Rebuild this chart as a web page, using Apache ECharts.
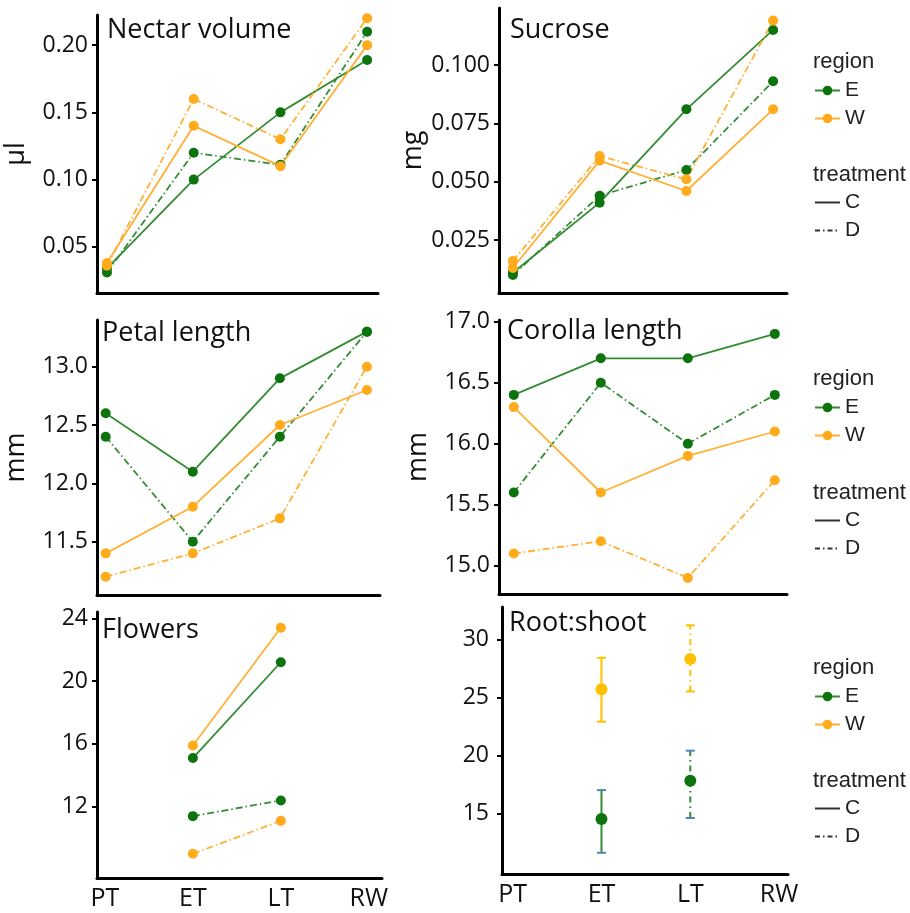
<!DOCTYPE html>
<html>
<head>
<meta charset="utf-8">
<script src="https://cdn.jsdelivr.net/npm/echarts@6/dist/echarts.min.js"></script>
<style>
  html, body { margin: 0; padding: 0; background: #fff; }
  #chart { width: 910px; height: 913px; }
</style>
</head>
<body>
<div id="chart"></div>
<script>
// x categories
var stages = ['PT', 'ET', 'LT', 'RW'];

// Nectar volume (µl)
var nectarEC = [0.034, 0.100, 0.150, 0.189];
var nectarED = [0.031, 0.120, 0.111, 0.210];
var nectarWC = [0.038, 0.140, 0.110, 0.200];
var nectarWD = [0.036, 0.160, 0.130, 0.220];
var nectarTicks = [0.05, 0.10, 0.15, 0.20];

// Sucrose (mg)
var sucroseEC = [0.011, 0.041, 0.081, 0.115];
var sucroseED = [0.010, 0.044, 0.055, 0.093];
var sucroseWC = [0.013, 0.059, 0.046, 0.081];
var sucroseWD = [0.016, 0.061, 0.051, 0.119];
var sucroseTicks = [0.025, 0.050, 0.075, 0.100];

// Petal length (mm)
var petalEC = [12.6, 12.1, 12.9, 13.3];
var petalED = [12.4, 11.5, 12.4, 13.3];
var petalWC = [11.4, 11.8, 12.5, 12.8];
var petalWD = [11.2, 11.4, 11.7, 13.0];
var petalTicks = [11.5, 12.0, 12.5, 13.0];

// Corolla length (mm)
var corollaEC = [16.4, 16.7, 16.7, 16.9];
var corollaED = [15.6, 16.5, 16.0, 16.4];
var corollaWC = [16.3, 15.6, 15.9, 16.1];
var corollaWD = [15.1, 15.2, 14.9, 15.7];
var corollaTicks = [15.0, 15.5, 16.0, 16.5, 17.0];

// Flowers (only ET / LT measured)
var flowersEC = [null, 15.1, 21.2, null];
var flowersED = [null, 11.4, 12.4, null];
var flowersWC = [null, 15.9, 23.4, null];
var flowersWD = [null, 9.0, 11.1, null];
var flowersTicks = [12, 16, 20, 24];

// Root:shoot, mean with error bars
var rootGroup = ['EC', 'WC', 'ED', 'WD'];
var rootStage = ['ET', 'ET', 'LT', 'LT'];
var rootMean = [14.5, 25.7, 17.8, 28.3];
var rootLow = [11.6, 22.9, 14.6, 25.5];
var rootHigh = [17.0, 28.4, 20.4, 31.2];
var rootTicks = [15, 20, 25, 30];

var green = '#0d730d', greenLine = '#338c33';
var orange = '#ffab1c', orangeLine = '#ffb035';
var gold = '#ffc000', capBlue = '#4f81bd';
var dashDot = [7, 3, 1.5, 3];
var font = 'Open Sans';

// panel layout: grid box, y range, x range
var panels = [
  { title: 'Nectar volume', name: 'µl', gap: 67, left: 97, top: 15, width: 281, height: 278, ymin: 0.0157, ymax: 0.2224, xmin: -0.115, xmax: 3.125, ticks: nectarTicks, dec: 2, labels: false, tx: 107, ty: 17 },
  { title: 'Sucrose', name: 'mg', gap: 72, left: 499, top: 8, width: 288, height: 285, ymin: 0.0023, ymax: 0.1244, xmin: -0.16, xmax: 3.16, ticks: sucroseTicks, dec: 3, labels: false, tx: 510, ty: 17 },
  { title: 'Petal length', name: 'mm', gap: 67, left: 97, top: 320, width: 283, height: 275, ymin: 11.043, ymax: 13.4, xmin: -0.1, xmax: 3.15, ticks: petalTicks, dec: 1, labels: false, tx: 102, ty: 320 },
  { title: 'Corolla length', name: 'mm', gap: 67, left: 499, top: 320, width: 288, height: 274, ymin: 14.768, ymax: 17.014, xmin: -0.17, xmax: 3.14, ticks: corollaTicks, dec: 1, labels: false, tx: 507, ty: 318 },
  { title: 'Flowers', name: '', gap: 60, left: 97, top: 612, width: 285, height: 266, ymin: 7.46, ymax: 24.4, xmin: -0.09, xmax: 3.15, ticks: flowersTicks, dec: 0, labels: true, tx: 102, ty: 617 },
  { title: 'Root:shoot', name: '', gap: 60, left: 502, top: 607, width: 286, height: 267, ymin: 9.77, ymax: 32.78, xmin: -0.12, xmax: 3.1, ticks: rootTicks, dec: 0, labels: true, tx: 509, ty: 610 }
];

var grids = [], xAxes = [], yAxes = [], titles = [];
panels.forEach(function (p, i) {
  grids.push({ left: p.left, top: p.top, width: p.width, height: p.height });
  titles.push({ text: p.title, left: p.tx, top: p.ty, padding: 0,
    textStyle: { fontSize: 27, fontWeight: 'normal', fontFamily: font, color: '#111' } });
  xAxes.push({
    type: 'value', gridIndex: i, min: p.xmin, max: p.xmax,
    axisLine: { show: true, onZero: false, lineStyle: { color: '#000', width: 3 } },
    axisTick: { show: false },
    splitLine: { show: false },
    axisLabel: {
      show: p.labels, customValues: [0, 1, 2, 3], margin: 8,
      fontSize: 25, fontFamily: font, color: '#111',
      formatter: function (v) { return stages[Math.round(v)]; }
    }
  });
  yAxes.push({
    type: 'value', gridIndex: i, min: p.ymin, max: p.ymax,
    name: p.name, nameLocation: 'middle', nameGap: p.gap,
    nameTextStyle: { fontSize: 27, fontFamily: font, color: '#111' },
    axisLine: { show: true, onZero: false, lineStyle: { color: '#000', width: 3 } },
    axisTick: { show: true, customValues: p.ticks, length: 5, lineStyle: { color: '#000', width: 2 } },
    splitLine: { show: false },
    axisLabel: {
      customValues: p.ticks, margin: i === 5 ? 13 : 9,
      fontSize: 23, fontFamily: font, color: '#111',
      formatter: (function (d) { return function (v) { return v.toFixed(d); }; })(p.dec)
    }
  });
});

function lineSeries(idx, label, vals, region, treat) {
  var pts = [];
  vals.forEach(function (v, i) { if (v != null) pts.push([i, v]); });
  var isE = region === 'E';
  return {
    name: label, type: 'line', xAxisIndex: idx, yAxisIndex: idx, data: pts,
    symbol: 'circle', symbolSize: 10, silent: true,
    itemStyle: { color: isE ? green : orange },
    lineStyle: { color: isE ? greenLine : orangeLine, width: 1.8, type: treat === 'D' ? dashDot : 'solid' }
  };
}

var series = [];
var sets = [
  [nectarEC, nectarED, nectarWC, nectarWD],
  [sucroseEC, sucroseED, sucroseWC, sucroseWD],
  [petalEC, petalED, petalWC, petalWD],
  [corollaEC, corollaED, corollaWC, corollaWD],
  [flowersEC, flowersED, flowersWC, flowersWD]
];
sets.forEach(function (s, i) {
  series.push(lineSeries(i, panels[i].title + ' E C', s[0], 'E', 'C'));
  series.push(lineSeries(i, panels[i].title + ' E D', s[1], 'E', 'D'));
  series.push(lineSeries(i, panels[i].title + ' W C', s[2], 'W', 'C'));
  series.push(lineSeries(i, panels[i].title + ' W D', s[3], 'W', 'D'));
});

// root:shoot error bars + means
rootGroup.forEach(function (g, k) {
  var isE = g.charAt(0) === 'E';
  var col = isE ? greenLine : gold;
  var x = stages.indexOf(rootStage[k]);
  series.push({
    name: 'Root:shoot ' + g + ' bar', type: 'custom', xAxisIndex: 5, yAxisIndex: 5, silent: true,
    data: [[x, rootLow[k], rootHigh[k]]],
    renderItem: function (params, api) {
      var lo = api.coord([api.value(0), api.value(1)]);
      var hi = api.coord([api.value(0), api.value(2)]);
      var capCol = isE ? capBlue : gold;
      var w = 4.5;
      return {
        type: 'group',
        children: [
          { type: 'line', shape: { x1: lo[0], y1: lo[1], x2: hi[0], y2: hi[1] },
            style: { stroke: col, lineWidth: 2, lineDash: g.charAt(1) === 'D' ? [6, 4, 1.5, 4] : null } },
          { type: 'line', shape: { x1: lo[0] - w, y1: lo[1], x2: lo[0] + w, y2: lo[1] },
            style: { stroke: capCol, lineWidth: 2 } },
          { type: 'line', shape: { x1: hi[0] - w, y1: hi[1], x2: hi[0] + w, y2: hi[1] },
            style: { stroke: capCol, lineWidth: 2 } }
        ]
      };
    }
  });
  series.push({
    name: 'Root:shoot ' + g, type: 'scatter', xAxisIndex: 5, yAxisIndex: 5, silent: true,
    data: [[x, rootMean[k]]], symbolSize: 12, z: 5,
    itemStyle: { color: isE ? green : gold, opacity: 1 }
  });
});

// dummy series feeding the legends
series.push({ name: 'E', type: 'line', data: [], symbol: 'circle', symbolSize: 9, itemStyle: { color: green }, lineStyle: { color: greenLine, width: 2 } });
series.push({ name: 'W', type: 'line', data: [], symbol: 'circle', symbolSize: 9, itemStyle: { color: orange }, lineStyle: { color: orangeLine, width: 2 } });
series.push({ name: 'C', type: 'line', data: [], symbol: 'none', itemStyle: { color: '#333' }, lineStyle: { color: '#333', width: 1.6 } });
series.push({ name: 'D', type: 'line', data: [], symbol: 'none', itemStyle: { color: '#333' }, lineStyle: { color: '#333', width: 1.6, type: [5, 3, 1.5, 3] } });

var legendRows = [
  { region: 62, e: 80, treat: 175, c: 192 },
  { region: 379, e: 397, treat: 493, c: 510 },
  { region: 668, e: 686, treat: 781, c: 798 }
];
var legends = [], graphics = [];
legendRows.forEach(function (r) {
  var common = { orient: 'vertical', left: 814, itemWidth: 25, itemHeight: 12, itemGap: 7, padding: 0,
    selectedMode: false, textStyle: { fontSize: 21, lineHeight: 20, fontFamily: 'Liberation Sans', color: '#222' } };
  legends.push(Object.assign({}, common, { top: r.e, data: ['E', 'W'] }));
  // line-only keys for treatment: hide the dot
  legends.push(Object.assign({}, common, { top: r.c, data: ['C', 'D'], itemStyle: { opacity: 0 } }));
  graphics.push({ type: 'text', x: 813, y: r.region, style: { text: 'region', fontSize: 22, fontFamily: 'Liberation Sans', fill: '#222', verticalAlign: 'middle' } });
  graphics.push({ type: 'text', x: 813, y: r.treat, style: { text: 'treatment', fontSize: 22, fontFamily: 'Liberation Sans', fill: '#222', verticalAlign: 'middle' } });
});

var chart = echarts.init(document.getElementById('chart'));
chart.setOption({
  animation: false,
  backgroundColor: '#fff',
  textStyle: { fontFamily: font },
  title: titles,
  grid: grids,
  xAxis: xAxes,
  yAxis: yAxes,
  legend: legends,
  graphic: graphics,
  series: series
});
</script>
</body>
</html>
